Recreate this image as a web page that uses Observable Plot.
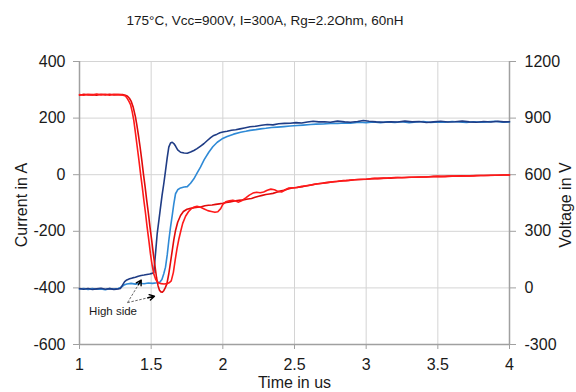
<!DOCTYPE html>
<html>
<head>
<meta charset="utf-8">
<script src="https://cdn.jsdelivr.net/npm/d3@7"></script>
<script src="https://cdn.jsdelivr.net/npm/@observablehq/plot@0.6"></script>
<style>
  html, body { margin: 0; padding: 0; background: #fff; overflow: hidden; }
  #chart svg { display: block; }
</style>
</head>
<body>
<div id="chart"></div>
<script>
// ---------- data ----------
const titleText = "175°C, Vcc=900V, I=300A, Rg=2.2Ohm, 60nH";
const xLabel = "Time in us";
const yLeftLabel = "Current in A";
const yRightLabel = "Voltage in V";

const xTicks = [1, 1.5, 2, 2.5, 3, 3.5, 4];
const currentTicks = [-600, -400, -200, 0, 200, 400];
const voltageTicks = [-300, 0, 300, 600, 900, 1200];

// current traces [time us, current A]
const currentA = [[1.00,283],[1.03,281],[1.06,284],[1.09,282],[1.12,285],[1.15,282],[1.18,284],[1.21,281],[1.24,284],[1.27,283],[1.29,282],[1.305,281],[1.321,278],[1.335,268],[1.346,258],[1.356,248],[1.368,222],[1.379,191],[1.391,145],[1.403,97],[1.415,50],[1.426,3],[1.438,-44],[1.449,-91],[1.461,-138],[1.472,-186],[1.484,-233],[1.495,-280],[1.507,-320],[1.518,-350],[1.53,-368],[1.54,-377],[1.555,-383],[1.57,-385],[1.59,-386],[1.61,-385],[1.625,-382],[1.64,-375],[1.655,-345],[1.668,-300],[1.68,-262],[1.693,-228],[1.707,-198],[1.72,-172],[1.74,-147],[1.76,-131],[1.78,-120],[1.80,-114],[1.82,-112],[1.845,-115],[1.87,-121],[1.895,-127],[1.92,-130],[1.945,-133],[1.965,-131],[1.985,-120],[2.00,-105],[2.02,-96],[2.045,-92],[2.07,-90],[2.09,-93],[2.11,-97],[2.135,-91],[2.16,-82],[2.185,-72],[2.21,-65],[2.235,-62],[2.26,-64],[2.285,-61],[2.31,-55],[2.335,-51],[2.36,-53],[2.385,-59],[2.41,-61],[2.435,-54],[2.46,-47],[2.49,-46],[2.52,-45],[2.55,-41],[2.58,-39],[2.62,-36],[2.66,-32],[2.70,-30],[2.74,-27],[2.78,-24],[2.82,-22],[2.86,-21],[2.90,-19],[2.94,-17],[2.98,-16],[3.02,-15],[3.06,-13],[3.10,-13],[3.15,-12],[3.20,-10],[3.25,-11],[3.30,-9],[3.35,-9],[3.40,-8],[3.45,-7],[3.50,-6],[3.55,-7],[3.60,-5],[3.65,-5],[3.70,-4],[3.75,-4],[3.80,-3],[3.85,-3],[3.90,-2],[3.95,-1],[4.00,-1]];

const currentB = [[1.00,281],[1.03,284],[1.06,282],[1.09,283],[1.12,281],[1.15,284],[1.18,282],[1.21,284],[1.24,282],[1.27,283],[1.30,283],[1.32,281],[1.335,277],[1.348,270],[1.36,260],[1.375,238],[1.39,205],[1.40,176],[1.411,140],[1.423,97],[1.435,50],[1.446,3],[1.458,-44],[1.469,-91],[1.481,-138],[1.492,-186],[1.504,-233],[1.515,-280],[1.527,-325],[1.538,-365],[1.548,-392],[1.558,-408],[1.568,-414],[1.578,-415],[1.588,-410],[1.598,-400],[1.61,-385],[1.623,-350],[1.635,-310],[1.647,-268],[1.658,-230],[1.67,-197],[1.685,-168],[1.705,-144],[1.725,-130],[1.75,-122],[1.775,-119],[1.80,-117],[1.825,-115],[1.85,-113],[1.875,-110],[1.90,-108],[1.925,-107],[1.95,-105],[1.975,-103],[2.00,-101],[2.025,-98],[2.05,-96],[2.075,-94],[2.10,-91],[2.125,-90],[2.15,-88],[2.175,-86],[2.20,-84],[2.225,-80],[2.25,-76],[2.275,-73],[2.30,-70],[2.325,-68],[2.35,-66],[2.375,-62],[2.40,-58],[2.425,-55],[2.45,-51],[2.475,-48],[2.50,-46],[2.53,-44],[2.56,-42],[2.60,-38],[2.64,-34],[2.68,-31],[2.72,-28],[2.76,-26],[2.80,-24],[2.84,-21],[2.88,-20],[2.92,-18],[2.96,-17],[3.00,-16],[3.04,-14],[3.08,-14],[3.12,-12],[3.17,-12],[3.22,-10],[3.27,-10],[3.32,-9],[3.37,-8],[3.42,-8],[3.47,-6],[3.52,-6],[3.57,-5],[3.62,-5],[3.67,-4],[3.72,-4],[3.77,-3],[3.82,-3],[3.87,-2],[3.92,-2],[3.96,-1],[4.00,-1]];

// voltage traces [time us, voltage V]
const voltageDark = [[1.00,-4],[1.03,-7],[1.06,-3],[1.09,-8],[1.12,-5],[1.15,-2],[1.18,-7],[1.21,-4],[1.24,-8],[1.27,-5],[1.285,-3],[1.30,15],[1.315,33],[1.33,42],[1.35,48],[1.37,53],[1.39,56],[1.41,62],[1.43,66],[1.45,68],[1.47,71],[1.49,74],[1.505,77],[1.518,80],[1.53,180],[1.542,287],[1.555,365],[1.565,425],[1.576,490],[1.588,552],[1.60,620],[1.612,690],[1.623,746],[1.635,768],[1.647,772],[1.658,765],[1.67,752],[1.685,732],[1.705,719],[1.73,715],[1.752,714],[1.775,720],[1.798,728],[1.82,738],[1.845,752],[1.867,764],[1.89,780],[1.915,796],[1.937,808],[1.96,815],[1.98,822],[2.00,826],[2.03,830],[2.06,836],[2.09,838],[2.12,843],[2.15,848],[2.19,854],[2.23,857],[2.27,862],[2.31,866],[2.35,864],[2.39,870],[2.43,872],[2.47,873],[2.51,876],[2.55,874],[2.59,879],[2.63,883],[2.67,880],[2.71,881],[2.75,878],[2.80,884],[2.85,880],[2.89,878],[2.94,882],[2.98,887],[3.02,883],[3.07,880],[3.12,878],[3.17,881],[3.22,879],[3.27,884],[3.32,880],[3.37,882],[3.42,877],[3.47,880],[3.52,883],[3.57,879],[3.62,881],[3.67,884],[3.72,880],[3.77,878],[3.82,882],[3.87,879],[3.92,883],[3.96,880],[4.00,881]];

const voltageLight = [[1.00,-6],[1.03,-3],[1.06,-8],[1.09,-4],[1.12,-7],[1.15,-5],[1.18,-9],[1.21,-4],[1.24,-6],[1.27,-3],[1.29,3],[1.31,15],[1.33,21],[1.36,24],[1.39,20],[1.42,25],[1.45,22],[1.48,26],[1.51,24],[1.54,27],[1.56,30],[1.575,45],[1.588,75],[1.60,110],[1.612,175],[1.623,250],[1.635,322],[1.647,385],[1.658,445],[1.67,499],[1.685,520],[1.705,530],[1.73,535],[1.752,537],[1.775,555],[1.798,578],[1.82,608],[1.844,640],[1.87,680],[1.902,719],[1.93,748],[1.961,772],[1.995,790],[2.03,802],[2.075,815],[2.124,825],[2.16,830],[2.19,835],[2.23,839],[2.263,843],[2.30,846],[2.34,850],[2.38,852],[2.426,855],[2.47,858],[2.52,861],[2.56,863],[2.612,866],[2.65,868],[2.70,869],[2.75,872],[2.80,871],[2.85,874],[2.891,873],[2.95,878],[3.00,875],[3.05,879],[3.10,876],[3.15,880],[3.20,877],[3.25,881],[3.30,876],[3.35,879],[3.40,882],[3.45,877],[3.50,880],[3.55,878],[3.60,882],[3.65,879],[3.70,877],[3.75,881],[3.80,878],[3.85,880],[3.90,883],[3.95,878],[4.00,879]];

// annotation (time us, current A)
const noteLabels = [{text: "High side", t: 1.234, a: -483}];
const noteArrows = [
  {t1: 1.335, a1: -452, t2: 1.4306, a2: -372.5},
  {t1: 1.335, a1: -452, t2: 1.523, a2: -429.5}
];

// ---------- chart ----------
const font = "'Liberation Sans', Arial, Helvetica, sans-serif";
const vToA = v => v / 1.5 - 400;          // right axis -> left axis units
const gridColor = "#d4d4d4";
const axisColor = "#a0a0a0";
const textColor = "#1a1a1a";

const chart = Plot.plot({
  width: 576,
  height: 392,
  marginLeft: 79,
  marginRight: 67,
  marginTop: 61,
  marginBottom: 48,
  style: {fontFamily: font, fontSize: "16px", color: textColor, background: "#fff", overflow: "hidden"},
  x: {domain: [1, 4]},
  y: {domain: [-600, 400]},
  marks: [
    Plot.gridX(xTicks, {stroke: gridColor, strokeOpacity: 1, strokeWidth: 1}),
    Plot.gridY(currentTicks, {stroke: gridColor, strokeOpacity: 1, strokeWidth: 1}),
    Plot.ruleX([1, 4], {stroke: axisColor, strokeWidth: 1.5}),
    Plot.ruleY([-600], {stroke: axisColor, strokeWidth: 1.5}),
    Plot.axisX(xTicks, {anchor: "bottom", tickSize: 5, tickPadding: 9, stroke: axisColor, fill: textColor, label: null, tickFormat: d => String(d)}),
    Plot.axisY(currentTicks, {anchor: "left", tickSize: 6, tickPadding: 8, stroke: axisColor, fill: textColor, label: null, tickFormat: d => String(d)}),
    Plot.axisY(voltageTicks.map(vToA), {anchor: "right", tickSize: 6, tickPadding: 9, stroke: axisColor, fill: textColor, label: null, tickFormat: d => String(Math.round((d + 400) * 1.5))}),
    Plot.line(voltageLight, {x: d => d[0], y: d => vToA(d[1]), stroke: "#2f8ad6", strokeWidth: 1.6}),
    Plot.line(voltageDark, {x: d => d[0], y: d => vToA(d[1]), stroke: "#1f3c85", strokeWidth: 1.6}),
    Plot.line(currentB, {x: d => d[0], y: d => d[1], stroke: "#e10a0a", strokeWidth: 1.6}),
    Plot.line(currentA, {x: d => d[0], y: d => d[1], stroke: "#ff1a1a", strokeWidth: 1.6}),
    Plot.link(noteArrows, {x1: "t1", y1: "a1", x2: "t2", y2: "a2", stroke: "#555", strokeWidth: 0.9, strokeDasharray: "2.5,1.5"}),
    Plot.arrow(noteArrows, {x1: "t1", y1: "a1", x2: "t2", y2: "a2", stroke: "#000", strokeWidth: 1.4, headLength: 6, insetStart: 21}),
    Plot.text(noteLabels, {x: "t", y: "a", text: "text", fontSize: 11.5, fill: textColor, fontFamily: font})
  ]
});

const svg = d3.select(chart);
svg.append("text")
  .attr("x", 265).attr("y", 25)
  .attr("text-anchor", "middle")
  .attr("font-family", font).attr("font-size", 13.5).attr("fill", textColor)
  .text(titleText);
svg.append("text")
  .attr("x", 294.5).attr("y", 388)
  .attr("text-anchor", "middle")
  .attr("font-family", font).attr("font-size", 16).attr("fill", textColor)
  .text(xLabel);
svg.append("text")
  .attr("transform", "translate(27,205) rotate(-90)")
  .attr("text-anchor", "middle")
  .attr("font-family", font).attr("font-size", 16).attr("fill", textColor)
  .text(yLeftLabel);
svg.append("text")
  .attr("transform", "translate(571,205) rotate(-90)")
  .attr("text-anchor", "middle")
  .attr("font-family", font).attr("font-size", 16).attr("fill", textColor)
  .text(yRightLabel);

document.getElementById("chart").appendChild(chart);
</script>
</body>
</html>
